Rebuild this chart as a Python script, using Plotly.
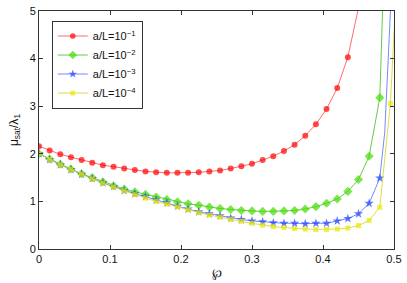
import plotly.graph_objects as go

step = 0.015
x_red = [round(i * step, 3) for i in range(30)]
x_grn = [round(i * step, 3) for i in range(33)]
x_blu = [round(i * step, 3) for i in range(33)]
x_yel = [round(i * step, 3) for i in range(34)]

y_red = [2.16, 2.07, 1.99, 1.93, 1.87, 1.81, 1.76, 1.73, 1.69, 1.66,
         1.63, 1.61, 1.60, 1.60, 1.60, 1.61, 1.63, 1.65, 1.69, 1.74,
         1.79, 1.87, 1.95, 2.06, 2.19, 2.38, 2.62, 2.94, 3.38, 4.03]
y_grn = [2.00, 1.89, 1.78, 1.68, 1.58, 1.50, 1.41, 1.33, 1.26, 1.20,
         1.15, 1.09, 1.04, 0.99, 0.95, 0.92, 0.88, 0.85, 0.83, 0.81,
         0.80, 0.79, 0.79, 0.80, 0.81, 0.84, 0.89, 0.96, 1.05, 1.21,
         1.46, 1.95, 3.18]
y_blu = [2.00, 1.88, 1.77, 1.67, 1.57, 1.48, 1.39, 1.31, 1.23, 1.16,
         1.10, 1.03, 0.97, 0.90, 0.84, 0.78, 0.74, 0.70, 0.65, 0.62,
         0.59, 0.57, 0.55, 0.54, 0.54, 0.53, 0.54, 0.54, 0.59, 0.64,
         0.74, 0.96, 1.49]
y_yel = [2.00, 1.88, 1.77, 1.67, 1.57, 1.47, 1.38, 1.30, 1.22, 1.14,
         1.07, 1.00, 0.94, 0.88, 0.82, 0.76, 0.71, 0.67, 0.62, 0.58,
         0.54, 0.50, 0.47, 0.45, 0.43, 0.42, 0.41, 0.41, 0.42, 0.44,
         0.49, 0.60, 0.88, 3.06]

# continuation of each curve above the visible range (line only)
tail_red_x, tail_red_y = [0.449, 0.455], [5.0, 5.6]
tail_grn_x, tail_grn_y = [0.484, 0.486], [5.0, 6.0]
tail_blu_x, tail_blu_y = [0.487, 0.495, 0.497], [2.46, 5.0, 6.0]
tail_yel_x, tail_yel_y = [0.502, 0.505], [5.0, 6.0]

names = ["a/L=10<sup>−1</sup>", "a/L=10<sup>−2</sup>",
         "a/L=10<sup>−3</sup>", "a/L=10<sup>−4</sup>"]

series = [
    (x_red, y_red, tail_red_x, tail_red_y, "#ff0000", "rgba(255,80,80,0.85)", "circle", 6),
    (x_grn, y_grn, tail_grn_x, tail_grn_y, "#44dd00", "rgba(60,190,30,0.8)", "diamond", 7),
    (x_blu, y_blu, tail_blu_x, tail_blu_y, "#1a3cff", "rgba(70,100,255,0.75)", "star", 7),
    (x_yel, y_yel, tail_yel_x, tail_yel_y, "#e8e800", "rgba(215,215,40,0.85)", "square", 5),
]

fig = go.Figure()
for (xs, ys, tx, ty, mc, lc, sym, sz), nm in zip(series, names):
    fig.add_trace(go.Scatter(
        x=xs + tx, y=ys + ty, mode="lines+markers", name=nm,
        line=dict(color=lc, width=1),
        marker=dict(color=mc, symbol=sym,
                    size=[sz] * len(xs) + [0] * len(tx),
                    line=dict(width=0)),
        cliponaxis=True,
    ))

axis_common = dict(
    showline=True, mirror="ticks", linecolor="#333333", linewidth=1,
    ticks="inside", ticklen=4, tickcolor="#333333", showgrid=False,
    zeroline=False, ticklabeloverflow="allow",
    tickfont=dict(family="Liberation Sans, Arial", size=11, color="#111111"),
)

fig.update_layout(
    width=407, height=283,
    margin=dict(l=39, r=11, t=5, b=32),
    paper_bgcolor="white", plot_bgcolor="white",
    font=dict(family="Liberation Sans, Arial", size=11, color="#111111"),
    xaxis=dict(range=[0, 0.5], tickvals=[0, 0.1, 0.2, 0.3, 0.4, 0.5],
               ticktext=["0", "0.1", "0.2", "0.3", "0.4", "0.5"],
               title=dict(text="℘", standoff=4, font=dict(size=12)), **axis_common),
    yaxis=dict(range=[0, 5], tickvals=[0, 1, 2, 3, 4, 5],
               title=dict(text="μ<sub>sat</sub>/λ<sub>1</sub>", standoff=8, font=dict(size=12)),
               **axis_common),
    legend=dict(x=0.036, y=0.96, xanchor="left", yanchor="top",
                bgcolor="white", bordercolor="#333333", borderwidth=1,
                font=dict(size=11), tracegroupgap=0, itemwidth=30),
    showlegend=True,
)

fig.write_html("out.html", config={"displayModeBar": False},
               post_script="document.body.style.margin='0';document.body.style.padding='0';")
